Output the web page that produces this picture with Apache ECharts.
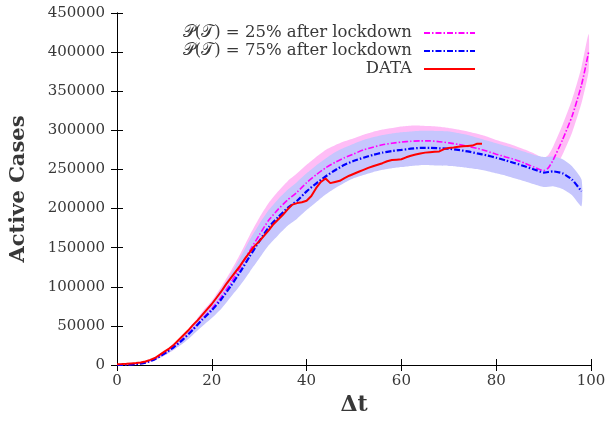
<!DOCTYPE html>
<html>
<head>
<meta charset="utf-8">
<script src="https://cdn.jsdelivr.net/npm/echarts@6/dist/echarts.min.js"></script>
<style>html,body{margin:0;padding:0;background:#fff}#c{width:609px;height:423px}</style>
</head>
<body>
<div id="c"></div>
<script>
// ---- data ----
var dataX = [0,1,2,3,4,5,6,7,8,9,10,11,12,13,14,15,16,17,18,19,20,21,22,23,24,25,26,27,28,29,30,31,32,33,34,35,36,37,38,39,40,41,42,43,44,45,46,47,48,49,50,51,52,53,54,55,56,57,58,59,60,61,62,63,64,65,66,67,68,69,70,71,72,73,74,75,76,77];
var dataY = [1000,1200,1500,2000,2500,3200,4500,6500,9000,13000,17000,21000,26000,32000,38000,44000,51000,57000,64000,71000,78000,86000,94000,103000,111000,119000,127000,136000,144000,152000,158000,165000,172000,180000,186000,192000,199000,205000,207000,208000,210000,216000,226000,234000,238500,232500,234000,235500,239000,242000,244500,247000,249500,252000,254000,256000,258000,260500,262000,262500,263000,265500,267500,269000,270500,271500,272000,272500,273000,276000,277500,278000,279000,279500,280000,280500,283000,283000];

var p75X = [0,2,4,6,8,10,12,14,16,18,20,22,24,26,28,30,32,34,36,38,40,42,44,46,48,50,52,54,56,58,60,62,64,66,68,70,72,74,76,78,80,82,84,86,88,90,92,94,96,98];
var p75Mean = [0,300,1200,3000,7500,14500,23000,33000,45000,58000,70000,84000,101000,119000,139000,158000,176000,189000,201000,210000,222000,232000,241000,249000,256000,261000,265000,268500,271500,273500,275000,276500,277500,277500,277000,276500,275000,273000,270500,268000,265000,261500,258000,254000,250000,246000,247500,245000,237000,222000];
var p75Low = [0,200,900,2400,6000,12000,19500,28000,38500,49500,60000,72000,87000,102000,119000,136000,153000,166000,178000,187000,198000,208000,218000,226000,233000,239000,243000,246500,249500,251500,253000,254500,255500,255500,255000,254500,253500,252000,250500,248000,245000,242000,238500,235000,231000,227500,228500,225000,217000,203000];
var p75High = [0,400,1500,3600,9000,17000,26500,38000,51500,66000,80000,97000,116000,137000,160000,180000,198000,212000,224000,234000,245000,255000,264000,272000,278000,283000,287500,291000,294000,296000,297500,298500,299500,299500,299000,298500,296500,294000,290500,287000,283500,280000,276500,272500,268500,266000,266500,263000,254000,237000];

var p25X = [0,2,4,6,8,10,12,14,16,18,20,22,24,26,28,30,32,34,36,38,40,42,44,46,48,50,52,54,56,58,60,62,64,66,68,70,72,74,76,78,80,82,84,86,88,90,91,92,94,96,98,99.5];
var p25Mean = [0,300,1200,3000,7500,14500,23500,33500,46000,59000,72000,87000,105000,125000,146000,166000,185000,199000,211000,221000,233000,243000,252000,259000,265000,270000,275000,278500,281500,283500,285000,286000,286500,286500,285500,284000,282000,279500,277000,273500,269500,266000,262500,258000,253000,248500,252000,262000,288000,318000,358000,400000];
var p25Low = [0,200,900,2400,6000,12000,19500,28500,39000,51000,62000,75000,90000,107000,125000,143000,161000,175000,187000,197000,208000,218000,227000,234000,241000,247000,252000,256500,260000,263000,265000,266500,267000,267000,266000,264500,262500,260500,258000,255000,251500,248000,244500,240500,236000,232500,236000,245000,269000,297000,335000,376000];
var p25High = [0,400,1500,3600,9000,17000,27000,39000,52500,68000,82000,100000,120000,142000,166000,188000,207000,222000,235000,245000,256000,266000,275000,281000,286000,290000,294500,298000,301000,303000,305000,306000,306000,305500,304500,303000,301000,298500,295500,292000,287500,284000,280000,275500,270500,265000,268500,279000,307000,339000,381000,423000];

var xTicks = [0,20,40,60,80,100];
var yTicks = [0,50000,100000,150000,200000,250000,300000,350000,400000,450000];

var name25 = '𝒫(𝒯) = 25% after lockdown';
var name75 = '𝒫(𝒯) = 75% after lockdown';
var nameData = 'DATA';

// ---- build ----
function zip(xs, ys){ return xs.map(function(x,i){ return [x, ys[i]]; }); }
function bandSeries(xs, lo, hi, color){
  return {
    type:'custom', silent:true, data:[0],
    renderItem:function(params, api){
      var pts = [];
      for (var i=0;i<xs.length;i++) pts.push(api.coord([xs[i], hi[i]]));
      for (var j=xs.length-1;j>=0;j--) pts.push(api.coord([xs[j], lo[j]]));
      return {type:'polygon', shape:{points:pts, smooth:0.2}, style:{fill:color, stroke:null}};
    }
  };
}

var FONT = 'DejaVu Serif';
var txt = '#383838';

var chart = echarts.init(document.getElementById('c'), null, {renderer:'canvas'});
var axisCommonX = {
  type:'value', min:xTicks[0], max:xTicks[xTicks.length-1], interval:20,
  splitLine:{show:false},
  axisLine:{show:true, lineStyle:{color:'#000', width:1}},
  axisTick:{show:true, inside:true, length:6, lineStyle:{color:'#000'}}
};
var axisCommonY = {
  type:'value', min:yTicks[0], max:yTicks[yTicks.length-1], interval:50000,
  splitLine:{show:false},
  axisLine:{show:true, lineStyle:{color:'#000', width:1}},
  axisTick:{show:true, inside:true, length:6, lineStyle:{color:'#000'}}
};
var option = {
  animation:false,
  grid:{left:116, right:18, top:13, bottom:58},
  xAxis:[
    Object.assign({}, axisCommonX, {position:'bottom', name:'Δt', nameLocation:'middle', nameGap:24,
      nameTextStyle:{fontFamily:FONT, fontSize:22, fontWeight:'bold', color:txt},
      axisLabel:{fontFamily:FONT, fontSize:15, color:txt, margin:9, formatter:function(v){return String(v);}}}),
    Object.assign({}, axisCommonX, {position:'top', axisLabel:{show:false}})
  ],
  yAxis:[
    Object.assign({}, axisCommonY, {position:'left', name:'Active Cases', nameLocation:'middle', nameGap:88,
      nameTextStyle:{fontFamily:FONT, fontSize:21, fontWeight:'bold', color:txt},
      axisLabel:{fontFamily:FONT, fontSize:15, color:txt, margin:12, formatter:function(v){return String(v);}}}),
    Object.assign({}, axisCommonY, {position:'right', axisLabel:{show:false}})
  ],
  legend:{
    data:[name25, name75, nameData],
    orient:'vertical', align:'right', right:128, top:19,
    itemWidth:51, itemHeight:10, itemGap:0,
    itemStyle:{opacity:0},
    textStyle:{fontFamily:FONT, fontSize:16.5, color:txt, lineHeight:18, padding:[0,7,0,0]},
    selectedMode:false
  },
  series:[
    bandSeries(p25X, p25Low, p25High, '#ffbdf6'),
    bandSeries(p75X, p75Low, p75High, '#c6c6fd'),
    {name:name25, type:'line', data:zip(p25X,p25Mean), symbol:'none', color:'#ff00ff', smooth:0.2,
      lineStyle:{color:'#ff00ff', width:1.6, type:[6,2,1.5,2]}},
    {name:name75, type:'line', data:zip(p75X,p75Mean), symbol:'none', color:'#0000ff', smooth:0.2,
      lineStyle:{color:'#0000ff', width:2.2, type:[6,2,1.5,2]}},
    {name:nameData, type:'line', data:zip(dataX,dataY), symbol:'none', color:'#ff0000',
      lineStyle:{color:'#ff0000', width:2}}
  ]
};
chart.setOption(option);
</script>
</body>
</html>
